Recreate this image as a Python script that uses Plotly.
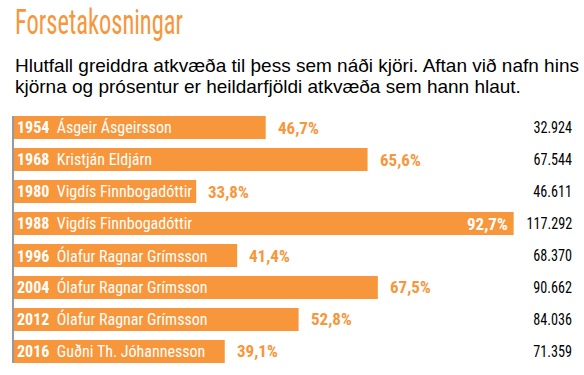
import plotly.graph_objects as go

years = ["1954", "1968", "1980", "1988", "1996", "2004", "2012", "2016"]
names = ["Ásgeir Ásgeirsson", "Kristján Eldjárn", "Vigdís Finnbogadóttir",
         "Vigdís Finnbogadóttir", "Ólafur Ragnar Grímsson", "Ólafur Ragnar Grímsson",
         "Ólafur Ragnar Grímsson", "Guðni Th. Jóhannesson"]
percent = [46.7, 65.6, 33.8, 92.7, 41.4, 67.5, 52.8, 39.1]
votes = [32924, 67544, 46611, 117292, 68370, 90662, 84036, 71359]

title = "Forsetakosningar"
subtitle_lines = ["Hlutfall greiddra atkvæða til þess sem náði kjöri. Aftan við nafn hins",
                  "kjörna og prósentur er heildarfjöldi atkvæða sem hann hlaut."]

ORANGE = "#F7963A"
COND = "Roboto Condensed, Arial Narrow, sans-serif"
SANS = "Liberation Sans, Arial, sans-serif"

W, H = 584, 375
L, R, T, B = 14, 0, 116, 12
XMAX = (W - L - R) / 5.39

fig = go.Figure()
fig.add_trace(go.Bar(
    x=percent, y=years, orientation="h",
    marker=dict(color=ORANGE, line=dict(width=0)),
    hoverinfo="skip",
))

annotations = []
for i, (yr, nm, p, v) in enumerate(zip(years, names, percent, votes)):
    annotations.append(dict(
        x=0, y=i, xref="x", yref="y", xanchor="left", yanchor="middle",
        text=f"<b>{yr}</b>  {nm}", showarrow=False, xshift=1,
        font=dict(family=COND, size=16, color="white"),
    ))
    ptxt = f"{p:.1f}%".replace(".", ",")
    if p > 80:
        annotations.append(dict(
            x=p, y=i, xref="x", yref="y", xanchor="right", yanchor="middle",
            text=f"<b>{ptxt}</b>", showarrow=False, xshift=-4,
            font=dict(family=COND, size=17, color="white"),
        ))
    else:
        annotations.append(dict(
            x=p, y=i, xref="x", yref="y", xanchor="left", yanchor="middle",
            text=f"<b>{ptxt}</b>", showarrow=False, xshift=10,
            font=dict(family=COND, size=17, color=ORANGE),
        ))
    annotations.append(dict(
        x=1, y=i, xref="paper", yref="y", xanchor="right", yanchor="middle",
        text=f"{v:,}".replace(",", "."), showarrow=False, xshift=-10,
        font=dict(family=COND, size=16.5, color="black"),
    ))

annotations.append(dict(
    x=0, y=1, xref="paper", yref="paper", xanchor="left", yanchor="top",
    xshift=-1, yshift=T - 0, text=title, showarrow=False, name="title",
    font=dict(family=COND, size=35, color=ORANGE),
))
for j, line in enumerate(subtitle_lines):
    annotations.append(dict(
        x=0, y=1, xref="paper", yref="paper", xanchor="left", yanchor="top",
        xshift=-1, yshift=T - 53 - 21 * j, align="left",
        text=line, showarrow=False,
        font=dict(family=SANS, size=19, color="black"),
    ))

fig.update_layout(
    width=W, height=H,
    margin=dict(l=L, r=R, t=T, b=B),
    paper_bgcolor="white", plot_bgcolor="white",
    bargap=0.28, showlegend=False,
    xaxis=dict(range=[0, XMAX], visible=False, fixedrange=True),
    yaxis=dict(autorange=False, range=[7.36, -0.36], type="category",
               showticklabels=False, showgrid=False, zeroline=False,
               showline=True, linecolor="#999999", linewidth=1.5, ticks="",
               fixedrange=True),
    annotations=annotations,
)

post = """
document.body.style.margin = '0';
var ts = document.querySelectorAll('.annotation-text');
ts.forEach(function (t) {
  var s = t.textContent;
  if (s === 'Forsetakosningar') {
    var w = t.getBBox().width;
    t.style.transformBox = 'fill-box';
    t.style.transformOrigin = 'left center';
    t.style.transform = 'scaleX(' + (168 / w) + ')';
  } else if (/^\\d+\\.\\d{3}$/.test(s)) {
    t.style.transformBox = 'fill-box';
    t.style.transformOrigin = 'right center';
    t.style.transform = 'scaleX(0.86)';
  }
});
"""
fig.write_html("out.html", config={"displayModeBar": False}, post_script=post)
